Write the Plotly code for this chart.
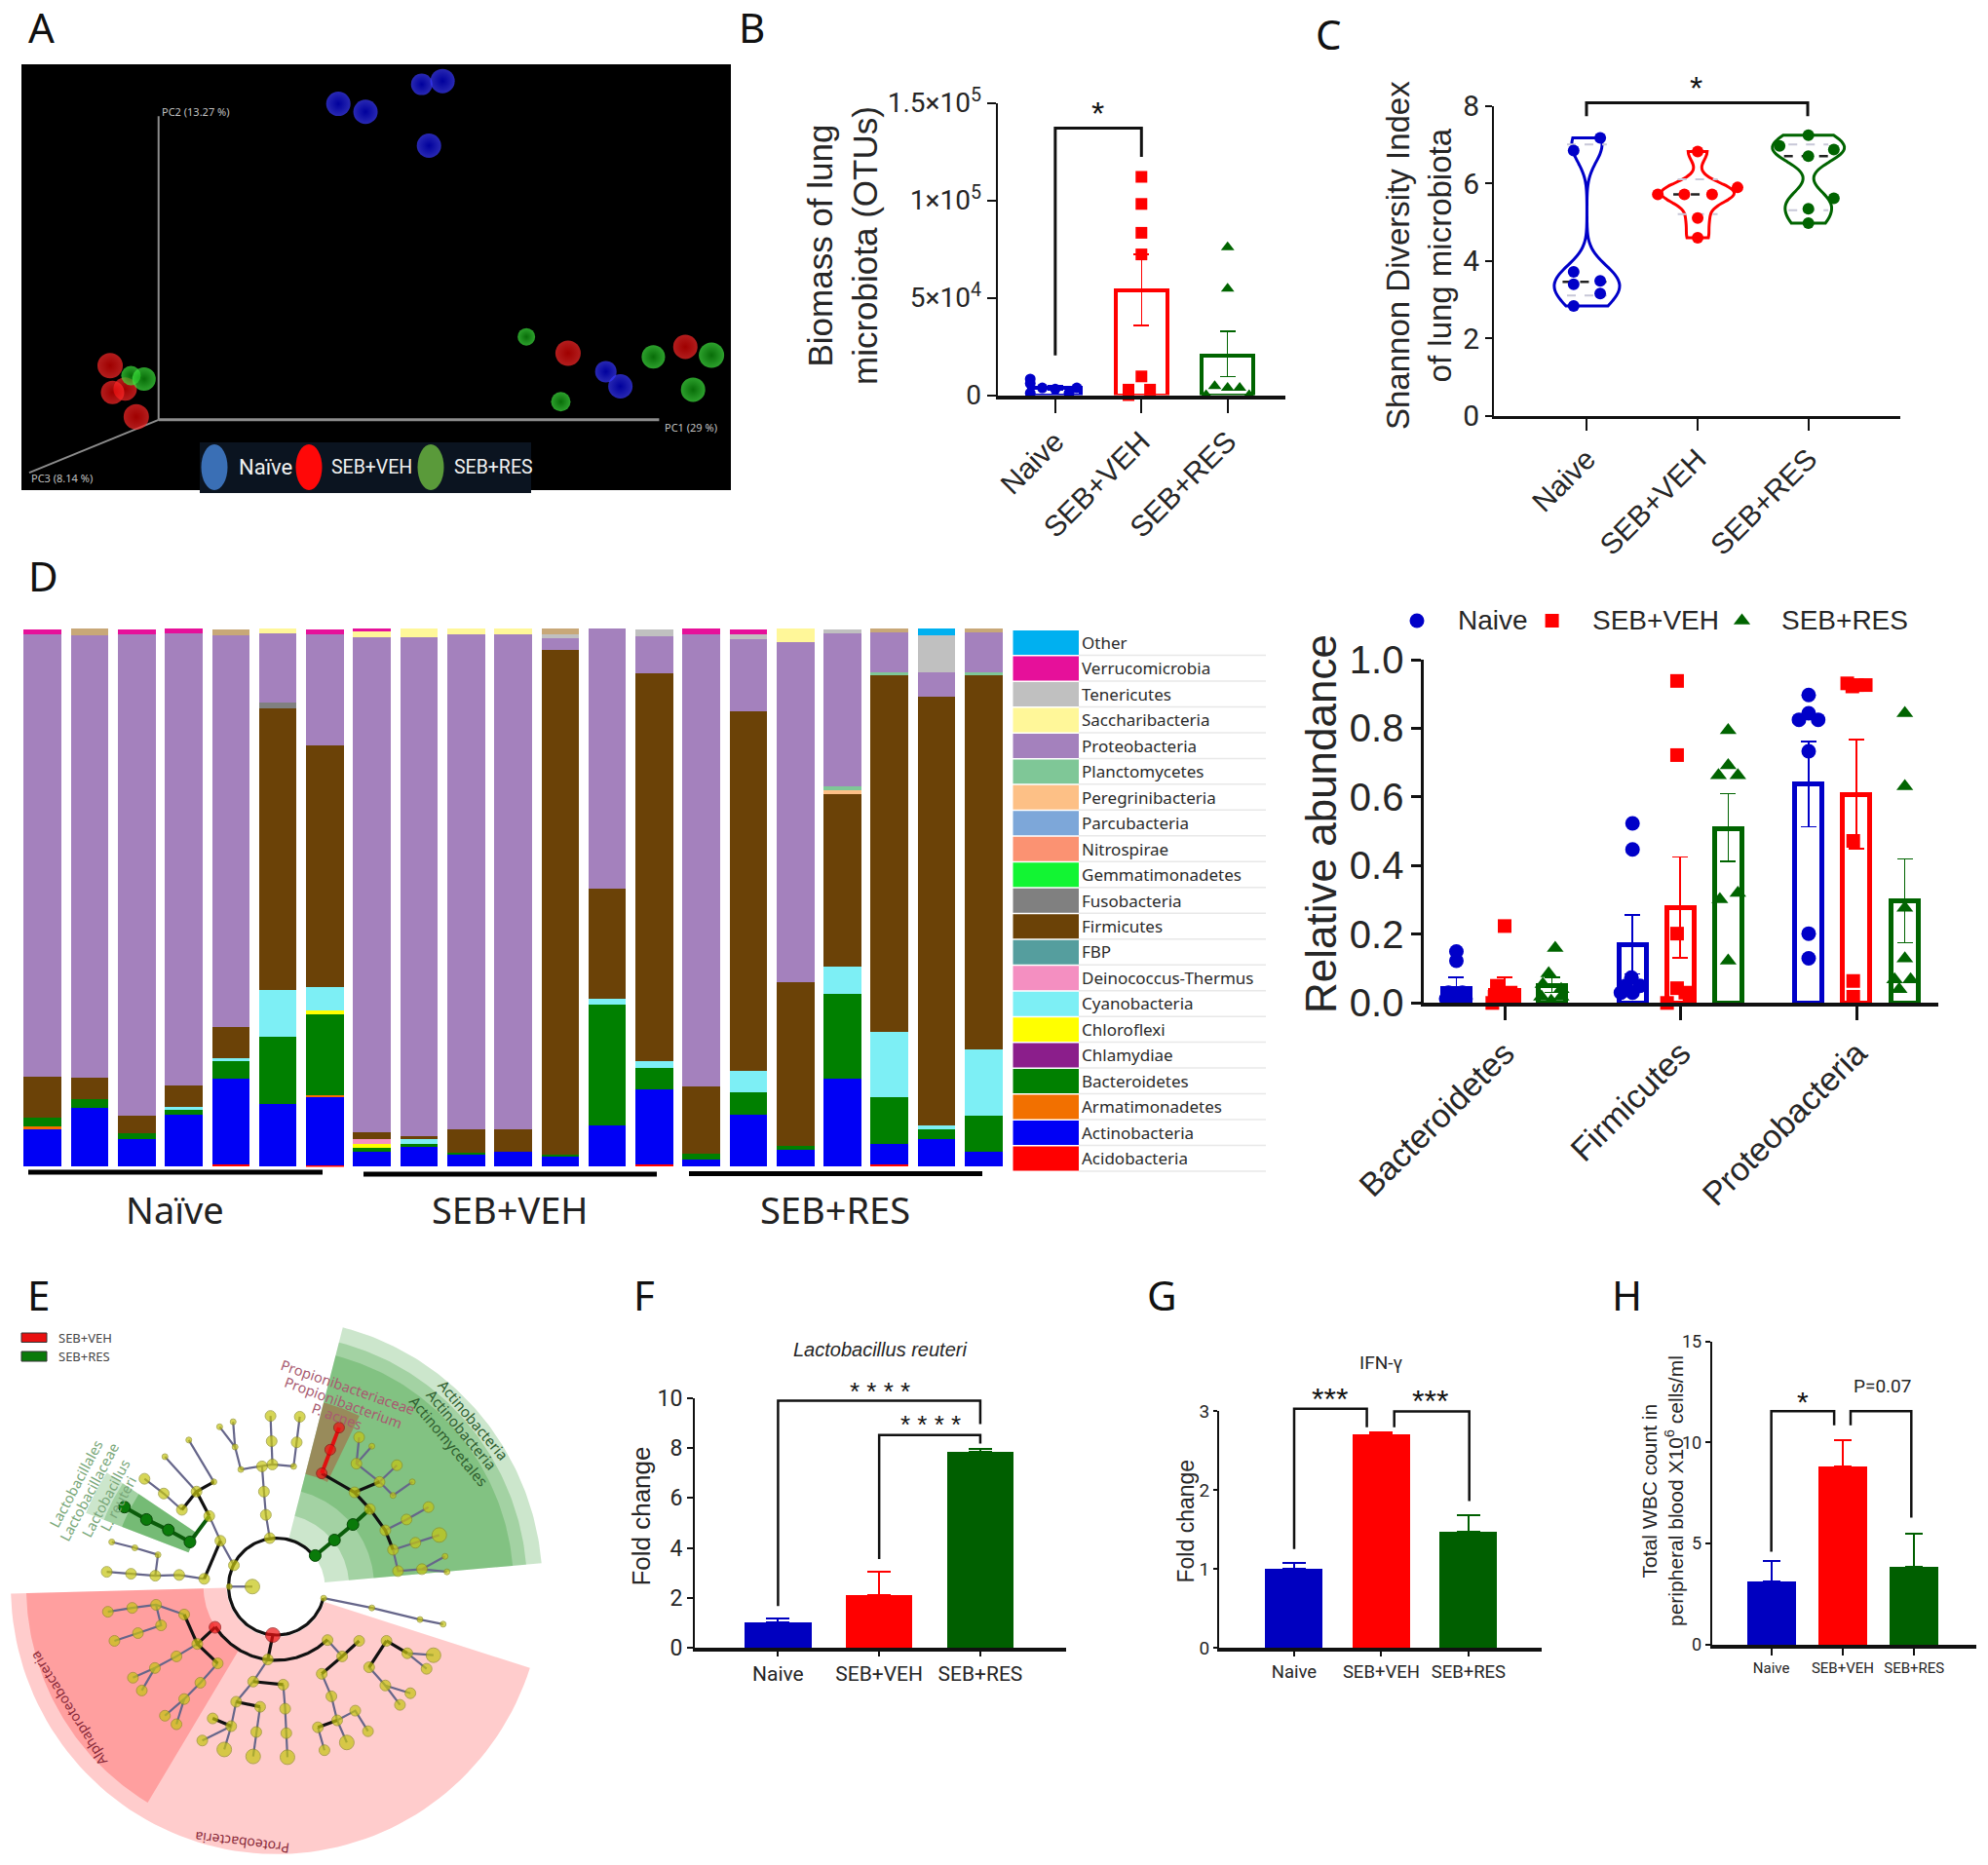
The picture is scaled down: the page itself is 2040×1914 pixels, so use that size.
import numpy as np
import plotly.graph_objects as go

W, H = 2040, 1914
BLUE, RED, GREEN = "#0000c8", "#ff0000", "#006400"
TEXT = "#262626"
ARIAL = "Liberation Sans"
NARROW = "Roboto"
CAL = "Noto Sans"

groups = ["Naive", "SEB+VEH", "SEB+RES"]

# ---------- Panel A: PCoA coordinates (arbitrary plot units)
pca_blue_x = [698, 754, 870, 913, 885, 1250, 1280]
pca_blue_y = [308, 332, 250, 240, 433, 1108, 1152]
pca_blue_s = [25, 25, 22, 25, 25, 22, 25]
pca_red_x = [227, 258, 232, 281, 1172, 1414]
pca_red_y = [1090, 1160, 1170, 1243, 1053, 1034]
pca_red_s = [26, 24, 24, 26, 26, 25]
pca_green_x = [270, 297, 1086, 1157, 1348, 1468, 1430]
pca_green_y = [1120, 1130, 1004, 1198, 1064, 1059, 1162]
pca_green_s = [20, 24, 18, 20, 24, 26, 25]

# ---------- Panel B
biomass_mean = [3800, 53700, 20400]
biomass_up = [1100, 18500, 12400]
biomass_down = [1100, 18000, 10800]
biomass_naive_x = [-0.29, -0.29, -0.15, 0.0, 0.16, 0.25, -0.29]
biomass_naive_y = [8300, 1000, 3700, 3100, 1000, 3700, 6000]
biomass_veh_x = [0, 0, 0, 0, 0, -0.15, 0.1, -0.15]
biomass_veh_y = [112000, 98100, 83300, 72200, 9600, 2800, 2800, 0]
biomass_res_x = [0, 0, -0.15, 0.0, 0.14, -0.25, 0.25]
biomass_res_y = [75900, 54600, 4600, 3700, 3700, 0, 0]

# ---------- Panel C
shannon_naive_x = [0.12, -0.12, -0.12, -0.12, 0.12, 0.12, -0.12]
shannon_naive_y = [7.17, 6.84, 3.71, 3.39, 3.48, 3.15, 2.83]
shannon_veh_x = [0, 0.36, -0.36, -0.12, 0.13, 0, 0]
shannon_veh_y = [6.82, 5.89, 5.71, 5.71, 5.71, 5.10, 4.59]
shannon_res_x = [0, -0.26, 0.23, 0, 0.23, 0, 0]
shannon_res_y = [7.24, 6.96, 6.87, 6.7, 5.61, 5.34, 4.97]
shannon_median = [3.45, 5.71, 6.7]
shannon_q1 = [3.1, 5.2, 5.3]
shannon_q3 = [7.0, 6.1, 7.0]

# ---------- Panel D: relative abundance in percent, 21 samples
samples = list(range(21))
phyla = ["Acidobacteria", "Actinobacteria", "Armatimonadetes", "Bacteroidetes", "Chlamydiae",
         "Chloroflexi", "Cyanobacteria", "Deinococcus-Thermus", "FBP", "Firmicutes", "Fusobacteria",
         "Gemmatimonadetes", "Nitrospirae", "Parcubacteria", "Peregrinibacteria", "Planctomycetes",
         "Proteobacteria", "Saccharibacteria", "Tenericutes", "Verrucomicrobia", "Other"]
phyla_colors = ["#ff0000", "#0000f5", "#f27000", "#008000", "#8b1e8b", "#ffff00", "#7deff5", "#f48fc1",
                "#559e9e", "#6b4207", "#808080", "#12f533", "#fb9272", "#7da7d9", "#fdc086", "#7fc797",
                "#a481bd", "#fff799", "#c0c0c0", "#e6109a", "#00b0f0"]
acido = [0, 0, 0, 0, .4, 0, .2, 0, 0, 0, 0, 0, 0, .4, 0, 0, 0, 0, .4, 0, 0]
actino = [6.9, 10.9, 5.2, 9.6, 15.9, 11.6, 12.7, 2.8, 3.7, 2.2, 2.8, 1.8, 7.6, 13.9, 1.4, 9.6, 3.2, 16.3, 3.8, 5.2, 2.8]
armat = [.6, 0, 0, 0, 0, 0, .4, 0, 0, 0, 0, 0, 0, 0, 0, 0, 0, 0, 0, 0, 0]
bactero = [1.6, 1.7, 1.0, 1.0, 3.3, 12.6, 15.0, .8, .6, .4, 0, .4, 22.6, 4.0, 1.0, 4.2, .6, 15.9, 8.8, 1.8, 6.6]
chloro = [0, 0, 0, 0, 0, 0, .8, .6, 0, 0, 0, 0, 0, 0, 0, 0, 0, 0, 0, 0, 0]
cyano = [0, 0, 0, .5, .6, 8.7, 4.2, 0, .8, 0, 0, 0, 1.0, 1.4, 0, 4.1, 0, 4.9, 12.0, .7, 12.4]
deino = [0, 0, 0, 0, 0, 0, 0, 1.0, 0, 0, 0, 0, 0, 0, 0, 0, 0, 0, 0, 0, 0]
firmi = [7.7, 4.0, 3.3, 4.0, 5.7, 52.3, 44.9, 1.2, .6, 4.4, 4.2, 93.8, 20.4, 72.0, 12.5, 66.7, 30.5, 32.1, 66.3, 79.7, 69.5]
fuso = [0, 0, 0, 0, 0, 1.0, 0, 0, 0, 0, 0, 0, 0, 0, 0, 0, 0, 0, 0, 0, 0]
peregrin = [0, 0, 0, 0, 0, 0, 0, 0, 0, 0, 0, 0, 0, 0, 0, 0, 0, .8, 0, 0, 0]
plancto = [0, 0, 0, 0, 0, 0, 0, 0, 0, 0, 0, 0, 0, 0, 0, 0, 0, .6, .6, 0, .6]
proteo = [82.1, 82.2, 89.4, 84.0, 72.9, 12.9, 20.7, 92.0, 92.7, 92.0, 92.0, 2.2, 48.4, 6.8, 84.1, 13.5, 63.2, 28.5, 7.4, 4.4, 7.4]
sacchari = [0, 0, 0, 0, 0, 1.0, 0, 1.0, 1.6, 1.0, 1.0, 0, 0, 0, 0, 0, 2.5, 0, 0, 0, 0]
teneri = [0, 0, 0, 0, 0, 0, 0, 0, 0, 0, 0, .8, 0, 1.4, 0, .8, 0, .8, 0, 7.0, 0]
verruco = [1.0, 0, 1.0, 1.0, 0, 0, 1.0, .6, 0, 0, 0, 0, 0, 0, 1.0, 1.0, 0, 0, 0, 0, 0]
other = [0, 0, 0, 0, 0, 0, 0, 0, 0, 0, 0, 0, 0, 0, 0, 0, 0, 0, 0, 1.2, 0]
tan_top = [0, 1.2, 0, 0, 1.0, 0, 0, 0, 0, 0, 0, 1.0, 0, 0, 0, 0, 0, 0, 1.0, 0, 1.0]
stack_names = ["Acidobacteria", "Actinobacteria", "Armatimonadetes", "Bacteroidetes", "Chloroflexi", "Cyanobacteria",
               "Deinococcus-Thermus", "Firmicutes", "Fusobacteria", "Peregrinibacteria", "Planctomycetes",
               "Proteobacteria", "Saccharibacteria", "Tenericutes", "Verrucomicrobia", "Other"]
stack_values = [acido, actino, armat, bactero, chloro, cyano, deino, firmi, fuso, peregrin, plancto, proteo,
                sacchari, teneri, verruco, other]
group_labels_d = ["Naïve", "SEB+VEH", "SEB+RES"]

# ---------- Panel D right
phyla_main = ["Bacteroidetes", "Firmicutes", "Proteobacteria"]
rel_x = [-0.274, 0.0, 0.269, 0.726, 0.996, 1.269, 1.726, 1.997, 2.272]
rel_mean = [.043, .037, .05, .169, .277, .507, .637, .607, .298]
rel_up = [.031, .037, .024, .087, .148, .103, .124, .16, .121]
rel_down = [.02, .02, .02, .084, .145, .094, .124, .157, .122]
rel_naive_x = [-.274, -.274, -.332, -.274, -.222, -.319, -.24, .726, .726, .72, .687, .768, .66, .726,
               1.726, 1.726, 1.671, 1.78, 1.726, 1.726, 1.726]
rel_naive_y = [.15, .123, .012, .018, .012, .03, .03, .523, .447, .074, .05, .05, .03, .03,
               .897, .844, .825, .825, .733, .202, .13]
rel_veh_x = [0, -.044, .034, -.057, -.005, .047, -.07, .979, .979, .979, .979, .922, 1.026, 1.05,
             1.945, 2.0, 2.05, 1.974, 1.979, 1.979, 1.979]
rel_veh_y = [.224, .05, .03, .018, .018, .018, 0, .938, .722, .202, .043, 0, .03, .018,
             .931, .926, .926, .922, .472, .064, .018]
rel_res_x = [.287, .25, .217, .321, .209, .321, .264, 1.269, 1.269, 1.214, 1.324, 1.222, 1.324, 1.269,
             2.272, 2.272, 2.272, 2.272, 2.214, 2.305, 2.24]
rel_res_y = [.16, .086, .055, .04, .018, .018, .006, .794, .692, .663, .663, .302, .32, .123,
             .844, .631, .277, .129, .068, .068, .04]

# ---------- Panel E: cladogram, in plot units
clade_center = (718, 850)
sector_start = [5, 5, 5, 64, 146.3, 146.3, 146.3, 181.5, 181.5]
sector_end = [75.6, 75.6, 75.6, 75.6, 159, 159, 159, 342.3, 239]
sector_inner = [125, 188, 253, 300, 245, 245, 245, 130, 190]
sector_outer = [690, 650, 615, 490, 530, 480, 430, 690, 650]
sector_color = ["rgba(0,128,0,0.2)", "rgba(0,128,0,0.2)", "rgba(0,128,0,0.2)", "rgba(190,50,30,0.38)",
                "rgba(0,128,0,0.2)", "rgba(0,128,0,0.2)", "rgba(0,128,0,0.28)", "rgba(255,0,0,0.2)", "rgba(255,0,0,0.22)"]
thin_edges = [
    [(700, 725), (690, 665), (685, 605), (680, 540)],
    [(625, 548), (680, 540), (707, 535), (762, 540)],
    [(625, 548), (610, 490), (570, 438)], [(610, 490), (605, 425)],
    [(707, 535), (705, 475), (702, 410)], [(762, 540), (770, 478), (778, 412)],
    [(607, 795), (572, 732), (543, 668)], [(555, 580), (490, 472)], [(510, 605), (428, 515)],
    [(472, 652), (425, 610), (375, 572)],
    [(530, 830), (465, 820), (403, 822), (340, 817), (277, 812)], [(403, 822), (410, 768), (350, 750), (290, 735)],
    [(595, 850), (655, 850)],
    [(985, 580), (925, 533), (932, 465)], [(925, 533), (965, 488)], [(985, 580), (1030, 537)],
    [(985, 580), (1020, 615), (1070, 580)], [(1000, 705), (1055, 677), (1112, 645)],
    [(1020, 755), (1078, 737), (1140, 717)], [(1020, 755), (1033, 810), (1095, 805), (1155, 772)],
    [(1095, 805), (1160, 812)], [(840, 880), (965, 905), (1090, 935), (1150, 947)],
    [(478, 922), (405, 897), (343, 905), (280, 915)], [(405, 897), (418, 950), (358, 970), (297, 990)],
    [(512, 998), (458, 1030), (402, 1060), (345, 1085)], [(402, 1060), (368, 1118)],
    [(565, 1048), (520, 1098), (478, 1140), (428, 1183)], [(478, 1140), (458, 1205)],
    [(695, 1038), (657, 1095)], [(657, 1095), (613, 1147)], [(613, 1147), (600, 1210), (552, 1190)],
    [(600, 1210), (525, 1247)], [(600, 1210), (582, 1270)], [(675, 1160), (665, 1225), (657, 1288)],
    [(735, 1103), (740, 1165), (743, 1228), (746, 1290)],
    [(835, 1075), (860, 1133), (875, 1195)], [(825, 1213), (842, 1272)], [(875, 1195), (922, 1170), (955, 1223)],
    [(875, 1195), (900, 1252)], [(1003, 990), (958, 1058), (1000, 1105), (1065, 1125)], [(1000, 1105), (1038, 1155)],
    [(1057, 1022), (1125, 1027)], [(1057, 1022), (1107, 1062)], [(850, 988), (888, 1030)],
]
thick_edges = [
    [(572, 732), (530, 830)], [(543, 668), (510, 605), (555, 580)], [(510, 605), (472, 652)],
    [(960, 650), (1000, 705), (1020, 755)], [(960, 650), (920, 607), (835, 558)], [(920, 607), (985, 580)],
    [(558, 955), (512, 998), (478, 922)], [(512, 998), (565, 1048)], [(657, 1095), (735, 1103)],
    [(613, 1147), (675, 1160)], [(600, 1210), (552, 1190)], [(875, 1195), (825, 1213)],
    [(932, 990), (888, 1030), (835, 1075)], [(1003, 990), (958, 1058)], [(1003, 990), (1057, 1022)], [(708, 975), (695, 1038)],
]
green_edges = [
    [(818, 770), (868, 730), (916, 690), (960, 650)], [(543, 668), (493, 735), (437, 704), (380, 677), (323, 645)],
]
red_edges = [[(835, 558), (857, 497), (880, 440)]]
green_nodes_x = [818, 868, 916, 493, 437, 380, 323]
green_nodes_y = [770, 730, 690, 735, 704, 677, 645]
red_nodes_x = [708, 558, 835, 857, 880]
red_nodes_y = [975, 955, 558, 497, 440]
red_nodes_s = [15, 12, 11, 11, 11]
small_nodes = {(570, 438), (605, 425), (610, 490), (625, 548), (762, 540), (490, 472), (428, 515), (555, 580), (290, 735),
               (350, 750), (410, 768), (965, 488), (1020, 615), (1070, 580), (1155, 772), (1160, 812), (840, 880),
               (965, 905), (1090, 935), (1150, 947), (595, 850)}
big_nodes = {(655, 850), (582, 1270), (657, 1288), (746, 1290), (900, 1252), (1125, 1027), (1140, 717)}
ring_span = (42, 346)
ring_radius = 125
arc_span = (213, 314)
arc_radius = 190
clade_labels = [
    ("Actinobacteria", 1228, 420, 50, "#2f5f2f", 15), ("Actinobacteria", 1198, 445, 50, "#2f5f2f", 15),
    ("Actinomycetales", 1165, 475, 50, "#2f5f2f", 15),
    ("Propionibacteriaceae", 902, 335, 19, "#a85a70", 14.5), ("Propionibacterium", 892, 375, 20, "#a85a70", 14.5),
    ("P. acnes", 875, 410, 20, "#a85a70", 14.5),
    ("Lactobacillales", 195, 585, -62, "#7aa87a", 14.5), ("Lactobacillaceae", 230, 605, -62, "#7aa87a", 14.5),
    ("Lactobacillus", 272, 622, -62, "#7aa87a", 14.5), ("L. reuteri", 305, 635, -62, "#7aa87a", 14.5),
    ("Proteobacteria", 630, 1510, 187, "#8a2a3a", 14), ("Alphaproteobacteria", 178, 1165, 238, "#8a2a3a", 14),
]

# ---------- Panels F, G, H
fold_reuteri = [1.02, 2.12, 7.85]
fold_reuteri_err = [.15, .91, .11]
fold_ifn = [1.0, 2.70, 1.465]
fold_ifn_err = [.07, .03, .215]
wbc = [3.12, 8.8, 3.84]
wbc_err = [1.01, 1.33, 1.63]
fill_colors = ["#0000c0", "#ff0000", "#005f00"]

fig = go.Figure()
layout_axes = {}
axis_count = [0]
annotations = []
shapes = []


def add_axes(x0, x1, top, bottom, xr, yr, xkw=None, ykw=None):
    axis_count[0] += 1
    n = axis_count[0]
    sfx = "" if n == 1 else str(n)
    base = dict(showgrid=False, zeroline=False, visible=True, showline=False, showticklabels=False, ticks="",
                fixedrange=True, automargin=False)
    xa = dict(base, domain=[x0 / W, x1 / W], range=xr, anchor="y" + sfx, type="linear")
    ya = dict(base, domain=[1 - bottom / H, 1 - top / H], range=yr, anchor="x" + sfx, type="linear")
    if xkw:
        xa.update(xkw)
    if ykw:
        ya.update(ykw)
    layout_axes["xaxis" + sfx] = xa
    layout_axes["yaxis" + sfx] = ya
    return "x" + sfx, "y" + sfx


def note(text, x, y, size, color=TEXT, family=ARIAL, angle=0, xa="center", ya="middle"):
    annotations.append(dict(text=text, x=x / W, y=1 - y / H, xref="paper", yref="paper", showarrow=False,
                            font=dict(size=size, color=color, family=family), textangle=angle,
                            xanchor=xa, yanchor=ya, align="center"))


def rect(x0, y0, x1, y1, fill, line=None, kind="rect", layer="above"):
    shapes.append(dict(type=kind, xref="paper", yref="paper", x0=x0 / W, x1=x1 / W, y0=1 - y0 / H, y1=1 - y1 / H,
                       fillcolor=fill, line=dict(width=0 if line is None else 1, color=line or "rgba(0,0,0,0)"),
                       layer=layer))


def line_trace(x, y, ax, color=TEXT, width=2.5, dash=None):
    fig.add_trace(go.Scatter(x=x, y=y, xaxis=ax[0], yaxis=ax[1], mode="lines", cliponaxis=False, showlegend=False,
                             line=dict(color=color, width=width, dash=dash), hoverinfo="skip"))


def points(x, y, ax, color, symbol, size):
    fig.add_trace(go.Scatter(x=x, y=y, xaxis=ax[0], yaxis=ax[1], mode="markers", cliponaxis=False, showlegend=False,
                             marker=dict(color=color, symbol=symbol, size=size, line=dict(width=0))))


def outlined_bar(x, y, up, down, ax, color, width, lw=4):
    fig.add_trace(go.Bar(x=[x], y=[y], width=width, xaxis=ax[0], yaxis=ax[1], showlegend=False,
                         marker=dict(color="rgba(0,0,0,0)", line=dict(color=color, width=lw)),
                         error_y=dict(type="data", symmetric=False, array=[up], arrayminus=[down],
                                      color=color, thickness=1.5, width=8)))


def solid_bar(x, y, err, ax, color, width, cap):
    fig.add_trace(go.Bar(x=[x], y=[y], width=width, xaxis=ax[0], yaxis=ax[1], showlegend=False,
                         marker=dict(color=color, line=dict(width=0)),
                         error_y=dict(type="data", symmetric=False, array=[err], arrayminus=[0],
                                      color=color, thickness=2, width=cap)))


def axis_style(size, family=ARIAL, lw=3, tl=10, tw=3, angle=None):
    d = dict(visible=True, showline=True, showticklabels=True, linecolor="#111", linewidth=lw, ticks="outside",
             ticklen=tl, tickwidth=tw, tickcolor="#111", tickfont=dict(size=size, family=family, color=TEXT))
    if angle is not None:
        d["tickangle"] = angle
    return d


axPage = add_axes(0, W, 0, H, [0, W], [H, 0])

# ===== A
rect(22, 66, 750, 503, "#000000", layer="below")
axA = add_axes(22, 750, 66, 503, [44, 1508], [1462, 190])
line_trace([327, 327], [345, 1252], axA, "#8c8c8c", 2)
line_trace([327, 1360], [1252, 1252], axA, "#8c8c8c", 3)
line_trace([327, 60], [1252, 1410], axA, "#8c8c8c", 2)
for xs, ys, ss, c, dk in [(pca_blue_x, pca_blue_y, pca_blue_s, "#3a3aff", "#0000e0"),
                          (pca_red_x, pca_red_y, pca_red_s, "#ff2a2a", "#e40000"),
                          (pca_green_x, pca_green_y, pca_green_s, "#40e640", "#0c9c0c")]:
    fig.add_trace(go.Scatter(x=xs, y=ys, xaxis=axA[0], yaxis=axA[1], mode="markers", showlegend=False,
                             marker=dict(size=ss, color=c, line=dict(width=0), gradient=dict(type="radial", color=dk))))
note("PC2 (13.27 %)", 164, 115, 11, "#c0c0c0", CAL, xa="left")
note("PC1 (29 %)", 680, 439, 11, "#c0c0c0", CAL, xa="left")
note("PC3 (8.14 %)", 30, 490, 11, "#c0c0c0", CAL, xa="left")
rect(205, 454, 545, 506, "#0b1420")
for cx_, c in [(220, "#3a6fb5"), (317, "#ff0808"), (442, "#5a9a3a")]:
    rect(cx_ - 13.5, 456, cx_ + 13.5, 503, c, kind="circle")
note("Naïve", 243, 479, 22, "#f0f0f0", NARROW, xa="left")
note("SEB+VEH", 338, 479, 19.5, "#f0f0f0", NARROW, xa="left")
note("SEB+RES", 464, 479, 19.5, "#f0f0f0", NARROW, xa="left")

# ===== B
x_lbl = dict(axis_style(30, lw=4, tl=14, tw=2, angle=-45), tickmode="array", tickvals=[0, 1, 2], ticktext=groups)
axB = add_axes(1023.6, 1319, 105.5, 405.5, [-0.67, 2.67], [0, 150000], x_lbl,
               dict(axis_style(28, NARROW, lw=2, tl=9, tw=2), tickmode="array", tickvals=[0, 50000, 100000, 150000],
                    ticktext=["0", "5×10<sup>4</sup>", "1×10<sup>5</sup>", "1.5×10<sup>5</sup>"]))
for k, col in enumerate([BLUE, RED, GREEN]):
    outlined_bar(k, biomass_mean[k], biomass_up[k], biomass_down[k], axB, col, 0.6)
points(biomass_naive_x, biomass_naive_y, axB, BLUE, "circle", 11)
points([1 + v for v in biomass_veh_x], biomass_veh_y, axB, RED, "square", 12)
points([2 + v for v in biomass_res_x], biomass_res_y, axB, GREEN, "triangle-up", 12)
line_trace([0, 0, 1, 1], [20370, 137000, 137000, 122200], axB, "#111", 3)
note("*", 1126, 116, 34, "#111")
note("Biomass of lung<br>microbiota (OTUs)", 864, 252, 35, TEXT, angle=-90)

# ===== C
x_lbl_c = dict(axis_style(30, lw=3, tl=12, tw=2, angle=-45), tickmode="array", tickvals=[0, 1, 2], ticktext=groups)
axC = add_axes(1533, 1950, 108.5, 426.5, [-0.84, 2.83], [0, 8], x_lbl_c,
               dict(axis_style(30, NARROW, lw=2, tl=7, tw=2), tickmode="array", tickvals=[0, 2, 4, 6, 8]))
for k, (ys, col, bw, wd) in enumerate([(shannon_naive_y, BLUE, 0.42, 0.59), (shannon_veh_y, RED, 0.25, 0.66),
                                       (shannon_res_y, GREEN, 0.3, 0.65)]):
    fig.add_trace(go.Violin(x=[k] * len(ys), y=ys, xaxis=axC[0], yaxis=axC[1], width=wd, spanmode="hard", bandwidth=bw,
                            points=False, side="both", showlegend=False, fillcolor="rgba(0,0,0,0)",
                            line=dict(color=col, width=3), box=dict(visible=False), meanline=dict(visible=False),
                            scalemode="width", hoverinfo="skip"))
    line_trace([k - 0.22, k + 0.22], [shannon_median[k]] * 2, axC, "#222", 2.5, "dash")
    line_trace([k - 0.18, k + 0.18], [shannon_q1[k]] * 2, axC, "#c8c8d8", 2, "dash")
    line_trace([k - 0.18, k + 0.18], [shannon_q3[k]] * 2, axC, "#c8c8d8", 2, "dash")
points(shannon_naive_x, shannon_naive_y, axC, BLUE, "circle", 12)
points([1 + v for v in shannon_veh_x], shannon_veh_y, axC, RED, "circle", 12)
points([2 + v for v in shannon_res_x], shannon_res_y, axC, GREEN, "circle", 12)
line_trace([1628, 1628, 1855, 1855], [119.3, 105.5, 105.5, 119.3], axPage, "#111", 3)
note("*", 1740, 90, 34, "#111")
note("Shannon Diversity Index<br>of lung microbiota", 1456, 262, 33, TEXT, angle=-90)

# ===== D stacked bars
axD = add_axes(20, 1032, 645, 1197.4, [-0.493, 20.47], [0, 100])
for name, vals in zip(stack_names, stack_values):
    fig.add_trace(go.Bar(x=samples, y=vals, width=0.8, name=name, xaxis=axD[0], yaxis=axD[1], showlegend=False,
                         marker=dict(color=phyla_colors[phyla.index(name)], line=dict(width=0))))
fig.add_trace(go.Bar(x=samples, y=tan_top, width=0.8, name="Top", xaxis=axD[0], yaxis=axD[1], showlegend=False,
                     marker=dict(color="#c8a878", line=dict(width=0))))
for (a, b, yy), lab, cx_ in zip([(29, 331, 1203), (373, 674, 1205), (707, 1008, 1204.5)], group_labels_d, [179, 523, 857]):
    rect(a, yy - 2.5, b, yy + 2.5, "#000000")
    note(lab, cx_, 1240.5, 38, "#222", CAL)
# legend table
row_h = (1202 - 646) / 21
for i, (name, col) in enumerate(zip(phyla[::-1], phyla_colors[::-1])):
    y0 = 646 + i * row_h
    rect(1039.5, y0 + 1, 1107, y0 + row_h - 0.5, col)
    shapes.append(dict(type="line", xref="paper", yref="paper", x0=1107 / W, x1=1299 / W,
                       y0=1 - (y0 + row_h) / H, y1=1 - (y0 + row_h) / H, line=dict(color="#e8e8e8", width=1.5)))
    note(name, 1108, y0 + row_h / 2, 17, "#2a2a2a", CAL, xa="left")

# ===== D right
x_lbl_i = dict(axis_style(34, lw=4, tl=14, tw=3, angle=-45), tickmode="array", tickvals=[0, 1, 2], ticktext=phyla_main)
axI = add_axes(1461.4, 1989, 677, 1029.3, [-0.457, 2.462], [0, 1.0], x_lbl_i,
               dict(axis_style(40, lw=3, tl=10, tw=3), tickmode="array", tickvals=[0, .2, .4, .6, .8, 1.0],
                    ticktext=["0.0", "0.2", "0.4", "0.6", "0.8", "1.0"]))
for k, xv in enumerate(rel_x):
    outlined_bar(xv, rel_mean[k], rel_up[k], rel_down[k], axI, [BLUE, RED, GREEN][k % 3], 0.155, 5)
points(rel_naive_x, rel_naive_y, axI, BLUE, "circle", 15)
points(rel_veh_x, rel_veh_y, axI, RED, "square", 14)
points(rel_res_x, rel_res_y, axI, GREEN, "triangle-up", 15)
note("Relative abundance", 1355, 846, 44, TEXT, angle=-90)
points([1454], [637], axPage, BLUE, "circle", 15)
points([1592.6], [637], axPage, RED, "square", 14)
points([1787.5], [637], axPage, GREEN, "triangle-up", 15)
note("Naive", 1494, 637, 28, TEXT, xa="left")
note("SEB+VEH", 1632, 637, 28, TEXT, xa="left")
note("SEB+RES", 1826, 637, 28, TEXT, xa="left")

# ===== E cladogram
axE = add_axes(0, 620, 1290, 1914, [0, 1568], [1568, 0])
cx, cy = clade_center
for s, e, ri, ro, col in zip(sector_start, sector_end, sector_inner, sector_outer, sector_color):
    th = np.radians(np.linspace(s, e, 80))
    px_ = np.concatenate([cx + ro * np.cos(th), cx + ri * np.cos(th[::-1])])
    py_ = np.concatenate([cy - ro * np.sin(th), cy - ri * np.sin(th[::-1])])
    fig.add_trace(go.Scatter(x=px_, y=py_, xaxis=axE[0], yaxis=axE[1], mode="lines", fill="toself", fillcolor=col,
                             line=dict(width=0), showlegend=False, hoverinfo="skip"))


def edges_trace(edge_lists, color, width):
    xs, ys = [], []
    for poly in edge_lists:
        xs += [p[0] for p in poly] + [None]
        ys += [p[1] for p in poly] + [None]
    line_trace(xs, ys, axE, color, width)


edges_trace(thin_edges, "#66668a", 2.2)
for (span, rad) in [(ring_span, ring_radius), (arc_span, arc_radius)]:
    th = np.radians(np.linspace(span[0], span[1], 120))
    line_trace(cx + rad * np.cos(th), cy - rad * np.sin(th), axE, "#111", 3.2)
edges_trace(thick_edges, "#111", 3.2)
edges_trace(green_edges, "#0a5c0a", 4)
edges_trace(red_edges, "#e01010", 4)
ring_top = [(700, 725), (607, 795)]
coloured = set(zip(green_nodes_x, green_nodes_y)) | set(zip(red_nodes_x, red_nodes_y))
node_set = []
for poly in thin_edges + thick_edges + green_edges + red_edges + [ring_top]:
    for p in poly:
        if p not in node_set and p not in coloured:
            node_set.append(p)
fig.add_trace(go.Scatter(x=[p[0] for p in node_set], y=[p[1] for p in node_set], xaxis=axE[0], yaxis=axE[1],
                         mode="markers", showlegend=False,
                         marker=dict(color="#c6c610", line=dict(color="#8f8f20", width=1),
                                     size=[6 if p in small_nodes else (15 if p in big_nodes else 11) for p in node_set])))
fig.add_trace(go.Scatter(x=green_nodes_x, y=green_nodes_y, xaxis=axE[0], yaxis=axE[1], mode="markers", showlegend=False,
                         marker=dict(color="#0a7a0a", size=12, line=dict(color="#084808", width=1))))
fig.add_trace(go.Scatter(x=red_nodes_x, y=red_nodes_y, xaxis=axE[0], yaxis=axE[1], mode="markers", showlegend=False,
                         marker=dict(color="#f01010", size=red_nodes_s, line=dict(color="#901010", width=1))))
for t, lx, ly, ang, col, sz in clade_labels:
    note(t, lx / 2.529, 1290 + ly / 2.513, sz, col, CAL, angle=ang)
rect(22, 1368, 48, 1377.5, "#e81010", "#333")
rect(22, 1387, 48, 1397, "#0a7a0a", "#333")
note("SEB+VEH", 58, 1373, 13, "#444", CAL, xa="left")
note("SEB+RES", 58, 1392, 13, "#444", CAL, xa="left")


# ===== F, G, H
def fold_x(size, lw=4, tl=5):
    return dict(axis_style(size, NARROW, lw=lw, tl=tl, tw=2, angle=0), tickmode="array", tickvals=[0, 1, 2], ticktext=groups)


axF = add_axes(713, 1093.7, 1435, 1691, [-0.823, 2.846], [0, 10], fold_x(21),
               dict(axis_style(23, NARROW, lw=2, tl=6, tw=2), tickmode="array", tickvals=[0, 2, 4, 6, 8, 10]))
axG = add_axes(1251, 1582, 1448, 1691, [-0.86, 2.84], [0, 3], fold_x(18.5),
               dict(axis_style(19, NARROW, lw=2, tl=4, tw=2), tickmode="array", tickvals=[0, 1, 2, 3]))
axH = add_axes(1756.8, 2028, 1376.5, 1688, [-0.83, 2.87], [0, 15], fold_x(15, tl=7),
               dict(axis_style(18, NARROW, lw=2, tl=5, tw=2), tickmode="array", tickvals=[0, 5, 10, 15]))
for k in range(3):
    solid_bar(k, fold_reuteri[k], fold_reuteri_err[k], axF, fill_colors[k], 0.66, 12)
    solid_bar(k, fold_ifn[k], fold_ifn_err[k], axG, fill_colors[k], 0.66, 12)
    solid_bar(k, wbc[k], wbc_err[k], axH, fill_colors[k], 0.68, 9)
line_trace([0, 0, 2, 2], [1.67, 9.9, 9.9, 8.96], axF, "#111", 2.5)
line_trace([1, 1, 2, 2], [3.55, 8.53, 8.53, 8.18], axF, "#111", 2.5)
line_trace([1328, 1328, 1402.6, 1402.6], [1589.8, 1445.7, 1445.7, 1464.8], axPage, "#111", 2.5)
line_trace([1430.7, 1430.7, 1507.7, 1507.7], [1464.8, 1448.4, 1448.4, 1540.5], axPage, "#111", 2.5)
line_trace([0, 0, .88, .88], [4.6, 11.54, 11.54, 10.85], axH, "#111", 2.5)
line_trace([1.11, 1.11, 1.96, 1.96], [10.85, 11.54, 11.54, 6.29], axH, "#111", 2.5)
note("* * * *", 902.6, 1428, 26, "#111")
note("* * * *", 955, 1462, 26, "#111")
note("***", 1364.6, 1436, 32, "#111")
note("***", 1467, 1438, 32, "#111")
note("*", 1850, 1438, 30, "#111")
note("P=0.07", 1931.6, 1422, 19, TEXT, NARROW)
note("<i>Lactobacillus reuteri</i>", 902.6, 1385, 20, TEXT)
note("IFN-γ", 1417, 1398, 19, TEXT, NARROW)
note("Fold change", 658, 1556.6, 26, TEXT, angle=-90)
note("Fold change", 1216, 1561.5, 23, TEXT, angle=-90)
note("Total WBC count in<br>peripheral blood X10<sup>6</sup> cells/ml", 1706, 1530, 21, TEXT, angle=-90)

# ===== letters
for t, lx, ly in [("A", 42, 27), ("B", 771, 27), ("C", 1363, 34), ("D", 44, 590), ("E", 39, 1328),
                  ("F", 661, 1328), ("G", 1192, 1328), ("H", 1669, 1328)]:
    note(t, lx, ly, 42, "#111", CAL)

fig.update_layout(template="none", width=W, height=H, margin=dict(l=0, r=0, t=0, b=0), paper_bgcolor="white",
                  plot_bgcolor="rgba(0,0,0,0)", barmode="stack", violinmode="overlay", showlegend=False,
                  annotations=annotations, shapes=shapes, **layout_axes)
fig.write_html("out.html", config=dict(displayModeBar=False),
               post_script="document.body.style.margin='0';document.body.style.overflow='hidden';")
